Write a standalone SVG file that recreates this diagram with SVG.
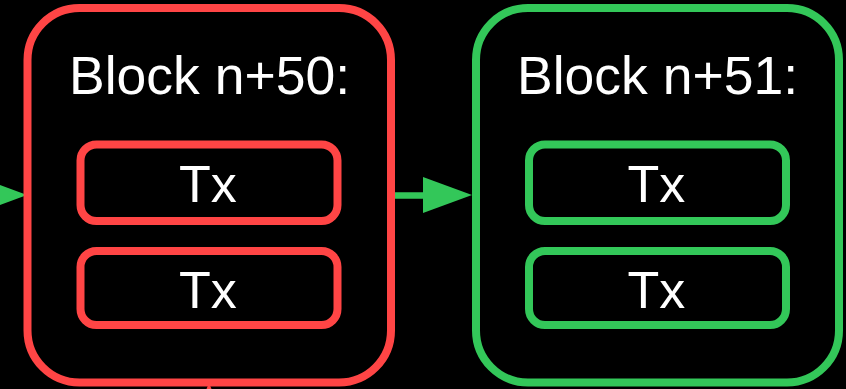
<svg xmlns="http://www.w3.org/2000/svg" width="846" height="389" viewBox="0 0 846 389">
  <style>
    .red { fill: none; stroke: #FF4545; stroke-width: 8; }
    .green { fill: none; stroke: #33C759; stroke-width: 8; }
    .title { font-family: "Liberation Sans", Arial, Helvetica, sans-serif; font-size: 53.5px; fill: #FFFFFF; text-anchor: middle; }
    .tx { font-family: "Liberation Sans", Arial, Helvetica, sans-serif; font-size: 52px; fill: #FFFFFF; text-anchor: middle; }
  </style>
  <rect x="0" y="0" width="846" height="389" fill="#000000"/>

  <!-- connectors -->
  <g id="connectors">
    <!-- incoming arrow from the previous block (off the left edge) -->
    <polygon points="-22,177 27,195 -22,213" fill="#33C759"/>
    <!-- n+50 -> n+51 -->
    <line x1="391" y1="195.5" x2="425" y2="195.5" stroke="#33C759" stroke-width="6.5"/>
    <polygon points="423,177 472,195 423,213" fill="#33C759"/>
    <!-- link leaving the bottom of block n+50 -->
    <polygon points="209,383 206.5,389 211.5,389" fill="#FF4545"/>
  </g>

  <!-- Block n+50 -->
  <g id="block-n50">
    <rect class="red" x="27.5" y="8" width="363.5" height="374.5" rx="52" ry="52"/>
    <text class="title" x="209.5" y="94">Block n+50:</text>
    <g id="block-n50-tx1">
      <rect class="red" x="80.5" y="144.5" width="257" height="76.5" rx="16" ry="16"/>
      <text class="tx" x="208" y="201.5">Tx</text>
    </g>
    <g id="block-n50-tx2">
      <rect class="red" x="80.5" y="251" width="257" height="74" rx="16" ry="16"/>
      <text class="tx" x="208" y="308">Tx</text>
    </g>
  </g>

  <!-- Block n+51 -->
  <g id="block-n51">
    <rect class="green" x="476" y="8" width="363" height="374.5" rx="52" ry="52"/>
    <text class="title" x="657.5" y="94">Block n+51:</text>
    <g id="block-n51-tx1">
      <rect class="green" x="529" y="144.5" width="257" height="76.5" rx="16" ry="16"/>
      <text class="tx" x="656.5" y="201.5">Tx</text>
    </g>
    <g id="block-n51-tx2">
      <rect class="green" x="529" y="251" width="257" height="74" rx="16" ry="16"/>
      <text class="tx" x="656.5" y="308">Tx</text>
    </g>
  </g>
</svg>
